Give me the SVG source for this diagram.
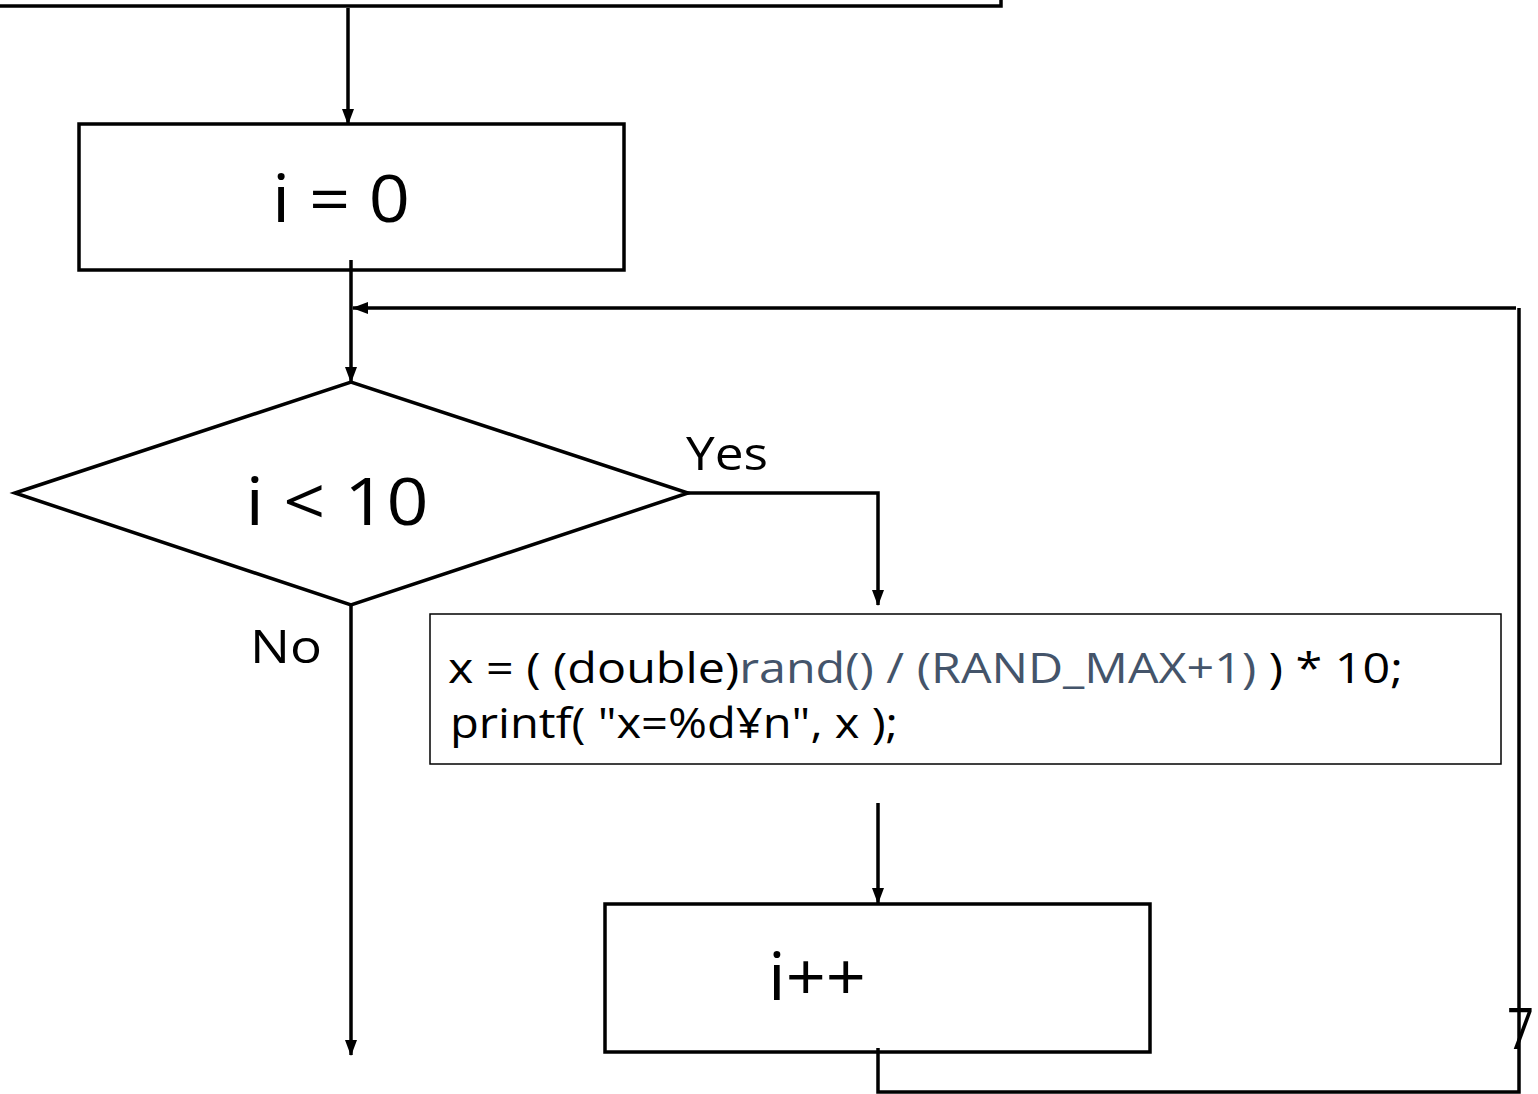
<svg xmlns="http://www.w3.org/2000/svg" width="1538" height="1094" viewBox="0 0 1538 1094">
<style>
.box{fill:#fff;stroke:#000;stroke-width:3.5}
.thin{fill:#fff;stroke:#000;stroke-width:1.5}
.ln{fill:none;stroke:#000;stroke-width:3.5}
.t{font-family:"Open Sans","Noto Sans",sans-serif;fill:#000}
.g{fill:#44546A}
</style>
<defs>
<marker id="ah" markerWidth="16" markerHeight="16" refX="15" refY="8" orient="auto" markerUnits="userSpaceOnUse">
<path d="M0,2 L16,8 L0,14 Z" fill="#000"/>
</marker>
</defs>
<g id="start"><rect class="box" x="-10" y="-20" width="1011" height="26"/></g>
<g id="init"><rect class="box" x="79" y="124" width="545" height="146"/>
<text class="t" x="341" y="222" font-size="66" text-anchor="middle" textLength="138" lengthAdjust="spacingAndGlyphs">i = 0</text></g>
<g id="cond"><polygon class="box" points="15,493 351,382 688,493 351,605"/>
<text class="t" x="337" y="525" font-size="66" text-anchor="middle" textLength="183" lengthAdjust="spacingAndGlyphs">i &lt; 10</text></g>
<g id="body"><rect class="thin" x="430" y="614" width="1071" height="150"/>
<text class="t" x="448" y="683" font-size="42" textLength="955" lengthAdjust="spacingAndGlyphs">x = ( (double)<tspan class="g">rand() / (RAND_MAX+1)</tspan> ) * 10;</text>
<text class="t" x="450" y="738" font-size="42" textLength="448" lengthAdjust="spacingAndGlyphs">printf( "x=%d¥n", x );</text></g>
<g id="inc"><rect class="box" x="605" y="904" width="545" height="148"/>
<text class="t" x="817" y="1000" font-size="66" text-anchor="middle" textLength="98" lengthAdjust="spacingAndGlyphs">i++</text></g>
<g id="connectors">
<line class="ln" x1="348" y1="8" x2="348" y2="124" marker-end="url(#ah)"/>
<line class="ln" x1="351" y1="260" x2="351" y2="382" marker-end="url(#ah)"/>
<polyline class="ln" points="878,1048 878,1092 1519,1092 1519,308"/>
<line class="ln" x1="1516" y1="308" x2="353" y2="308" marker-end="url(#ah)"/>
<polyline class="ln" points="688,493 878,493 878,605" marker-end="url(#ah)"/>
<line class="ln" x1="351" y1="605" x2="351" y2="1055" marker-end="url(#ah)"/>
<line class="ln" x1="878" y1="803" x2="878" y2="903" marker-end="url(#ah)"/>
</g>
<g id="labels">
<text class="t" x="686" y="470" font-size="46" textLength="82" lengthAdjust="spacingAndGlyphs">Yes</text>
<text class="t" x="250" y="663" font-size="46" textLength="72" lengthAdjust="spacingAndGlyphs">No</text>
<text class="t" x="1507" y="1049" font-size="56" textLength="27" lengthAdjust="spacingAndGlyphs">7</text>
</g>
</svg>
